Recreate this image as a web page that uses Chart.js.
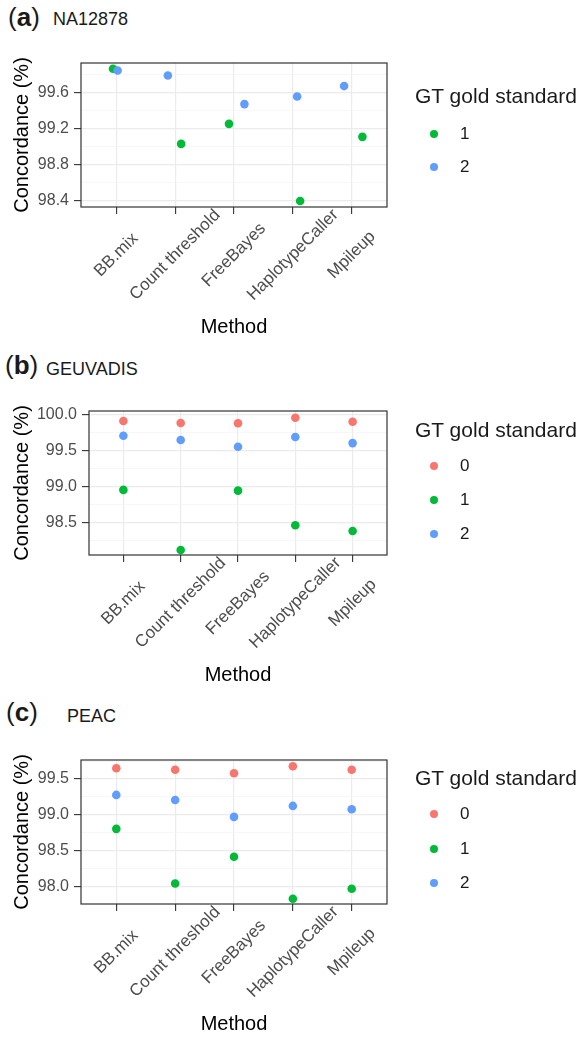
<!DOCTYPE html>
<html>
<head>
<meta charset="utf-8">
<script src="https://cdn.jsdelivr.net/npm/chart.js@4.4.1/dist/chart.umd.min.js"></script>
<style>
  body { margin: 0; width: 586px; height: 1038px; position: relative; background: #fff; overflow: hidden;
         font-family: "Liberation Sans", Arial, sans-serif; color: #1a1a1a; }
  canvas { position: absolute; left: 0; }
  .tag { position: absolute; font-size: 26px; line-height: 26px; white-space: nowrap; }
  .name { position: absolute; font-size: 18px; line-height: 18px; white-space: nowrap; }
  .lgTitle { position: absolute; font-size: 21px; line-height: 21px; white-space: nowrap; }
  .lgDot { position: absolute; width: 8px; height: 8px; border-radius: 50%; }
  .lgLab { position: absolute; font-size: 17px; line-height: 20px; }
</style>
</head>
<body>
<div class="tag" style="left:8px;top:4px">(<b>a</b>)</div>
<div class="name" style="left:53px;top:10px">NA12878</div>
<div class="tag" style="left:5px;top:352px">(<b>b</b>)</div>
<div class="name" style="left:46px;top:360px">GEUVADIS</div>
<div class="tag" style="left:6px;top:699px">(<b>c</b>)</div>
<div class="name" style="left:67px;top:707px">PEAC</div>

<canvas id="chartA" width="586" height="346" style="top:0px"></canvas>
<canvas id="chartB" width="586" height="346" style="top:346px"></canvas>
<canvas id="chartC" width="586" height="346" style="top:692px"></canvas>

<script>
// categories
const methods = ['BB.mix', 'Count threshold', 'FreeBayes', 'HaplotypeCaller', 'Mpileup'];

// (a) NA12878 - GT levels 1 and 2 (points jittered horizontally)
const naGt1 = [99.863, 99.03, 99.252, 98.396, 99.108];
const naGt2 = [99.844, 99.789, 99.471, 99.556, 99.671];
const naJitter1 = [-0.056, 0.102, -0.085, 0.124, 0.182];
const naJitter2 = [0.022, -0.124, 0.177, 0.073, -0.129];
const naYRange = [98.33, 99.927];
const naYMajor = [98.4, 98.8, 99.2, 99.6];
const naYMinor = [98.6, 99.0, 99.4, 99.8];

// (b) GEUVADIS
const geuGt0 = [99.907, 99.88, 99.875, 99.953, 99.897];
const geuGt1 = [98.95, 98.115, 98.94, 98.46, 98.38];
const geuGt2 = [99.703, 99.643, 99.55, 99.685, 99.60];
const geuYRange = [98.046, 100.046];
const geuYMajor = [98.5, 99.0, 99.5, 100.0];
const geuYMinor = [98.25, 98.75, 99.25, 99.75];

// (c) PEAC
const peacGt0 = [99.649, 99.629, 99.579, 99.676, 99.629];
const peacGt1 = [98.806, 98.046, 98.417, 97.833, 97.972];
const peacGt2 = [99.278, 99.208, 98.972, 99.125, 99.079];
const peacYRange = [97.76, 99.764];
const peacYMajor = [98.0, 98.5, 99.0, 99.5];
const peacYMinor = [98.25, 98.75, 99.25, 99.75];

const gtColors = { '0': '#F8766D', '1': '#00BA38', '2': '#619CFF' };
const FONT = '"Liberation Sans", Arial, sans-serif';
const CANVAS_H = 346;

Chart.defaults.font.family = FONT;

// panel border + rotated method labels centred on each tick
const panelDecor = {
  id: 'panelDecor',
  afterDatasetsDraw(chart) {
    const { ctx, chartArea } = chart;
    ctx.save();
    ctx.strokeStyle = '#333333';
    ctx.lineWidth = 1.2;
    ctx.strokeRect(chartArea.left, chartArea.top, chartArea.right - chartArea.left, chartArea.bottom - chartArea.top);
    ctx.restore();
  },
  afterDraw(chart) {
    const { ctx, chartArea } = chart;
    const xs = chart.scales.x;
    ctx.save();
    ctx.font = '17px ' + FONT;
    ctx.fillStyle = '#4D4D4D';
    ctx.textAlign = 'center';
    ctx.textBaseline = 'middle';
    xs.ticks.forEach(t => {
      const px = xs.getPixelForValue(t.value);
      ctx.save();
      ctx.translate(px, chartArea.bottom + 48);
      ctx.rotate(-Math.PI / 4);
      ctx.fillText(methods[t.value], 0, 0);
      ctx.restore();
    });
    ctx.restore();
  }
};

function makePanel(id, series, yRange, yMajor, yMinor, box) {
  const datasets = series.map(s => ({
    label: s.level,
    data: s.values.map((v, i) => ({ x: i + (s.jitter ? s.jitter[i] : 0), y: v })),
    backgroundColor: gtColors[s.level],
    borderWidth: 0,
    pointRadius: 4.3,
    pointHoverRadius: 4.3,
    order: 2 - Number(s.level) // blue on top, like ggplot's row order
  }));

  return new Chart(document.getElementById(id), {
    type: 'scatter',
    data: { datasets },
    plugins: [panelDecor],
    options: {
      responsive: false,
      animation: false,
      events: [],
      layout: { padding: { left: 0, top: box.top, right: 586 - box.right, bottom: 0 } },
      plugins: { legend: { display: false }, tooltip: { enabled: false } },
      scales: {
        x: {
          type: 'linear',
          min: -0.6,
          max: 4.6,
          bounds: 'data',
          afterBuildTicks: sc => { sc.ticks = methods.map((m, i) => ({ value: i })); },
          afterFit: sc => { sc.height = CANVAS_H - box.bottom; },
          ticks: { display: false, autoSkip: false },
          grid: { color: '#EBEBEB', lineWidth: 1.2, tickColor: '#333333', tickLength: 7, tickWidth: 1.1 },
          border: { display: false },
          title: { display: true, text: 'Method', color: '#000', font: { size: 20 },
                   padding: { top: 0, bottom: box.xTitlePad } }
        },
        y: {
          min: yRange[0],
          max: yRange[1],
          bounds: 'data',
          afterBuildTicks: sc => {
            sc.ticks = yMajor.concat(yMinor).sort((a, b) => a - b)
              .map(v => ({ value: v, minor: yMinor.includes(v) }));
          },
          afterFit: sc => { sc.width = box.left; },
          ticks: {
            autoSkip: false,
            color: '#4D4D4D',
            font: { size: 16 },
            padding: 5,
            callback: v => yMajor.includes(v) ? v.toFixed(1) : ''
          },
          grid: {
            color: c => (c.tick && c.tick.minor) ? '#F3F3F3' : '#EBEBEB',
            lineWidth: c => (c.tick && c.tick.minor) ? 0.7 : 1.2,
            tickColor: c => (c.tick && c.tick.minor) ? 'rgba(0,0,0,0)' : '#333333',
            tickLength: 7,
            tickWidth: 1.1
          },
          border: { display: false },
          title: { display: true, text: 'Concordance (%)', color: '#000', font: { size: 20 },
                   padding: { top: 10, bottom: 0 } }
        }
      }
    }
  });
}

function makeLegend(levels, titleTop, itemYs) {
  const t = document.createElement('div');
  t.className = 'lgTitle';
  t.style.left = '415px';
  t.style.top = titleTop + 'px';
  t.textContent = 'GT gold standard';
  document.body.appendChild(t);
  levels.forEach((lv, i) => {
    const d = document.createElement('div');
    d.className = 'lgDot';
    d.style.background = gtColors[lv];
    d.style.left = (434.3 - 4) + 'px';
    d.style.top = (itemYs[i] - 4) + 'px';
    document.body.appendChild(d);
    const l = document.createElement('div');
    l.className = 'lgLab';
    l.style.left = '460px';
    l.style.top = (itemYs[i] - 10) + 'px';
    l.textContent = lv;
    document.body.appendChild(l);
  });
}

makePanel('chartA', [
  { level: '1', values: naGt1, jitter: naJitter1 },
  { level: '2', values: naGt2, jitter: naJitter2 }
], naYRange, naYMajor, naYMinor, { left: 81, right: 387, top: 63, bottom: 207, xTitlePad: 7 });

makePanel('chartB', [
  { level: '0', values: geuGt0 },
  { level: '1', values: geuGt1 },
  { level: '2', values: geuGt2 }
], geuYRange, geuYMajor, geuYMinor, { left: 89, right: 387, top: 65, bottom: 209, xTitlePad: 5 });

makePanel('chartC', [
  { level: '0', values: peacGt0 },
  { level: '1', values: peacGt1 },
  { level: '2', values: peacGt2 }
], peacYRange, peacYMajor, peacYMinor, { left: 81, right: 387, top: 68, bottom: 212, xTitlePad: 2 });

makeLegend(['1', '2'], 85, [134, 167.3]);
makeLegend(['0', '1', '2'], 419, [465.7, 500, 534]);
makeLegend(['0', '1', '2'], 767, [814.3, 848.7, 882.7]);
</script>
</body>
</html>
